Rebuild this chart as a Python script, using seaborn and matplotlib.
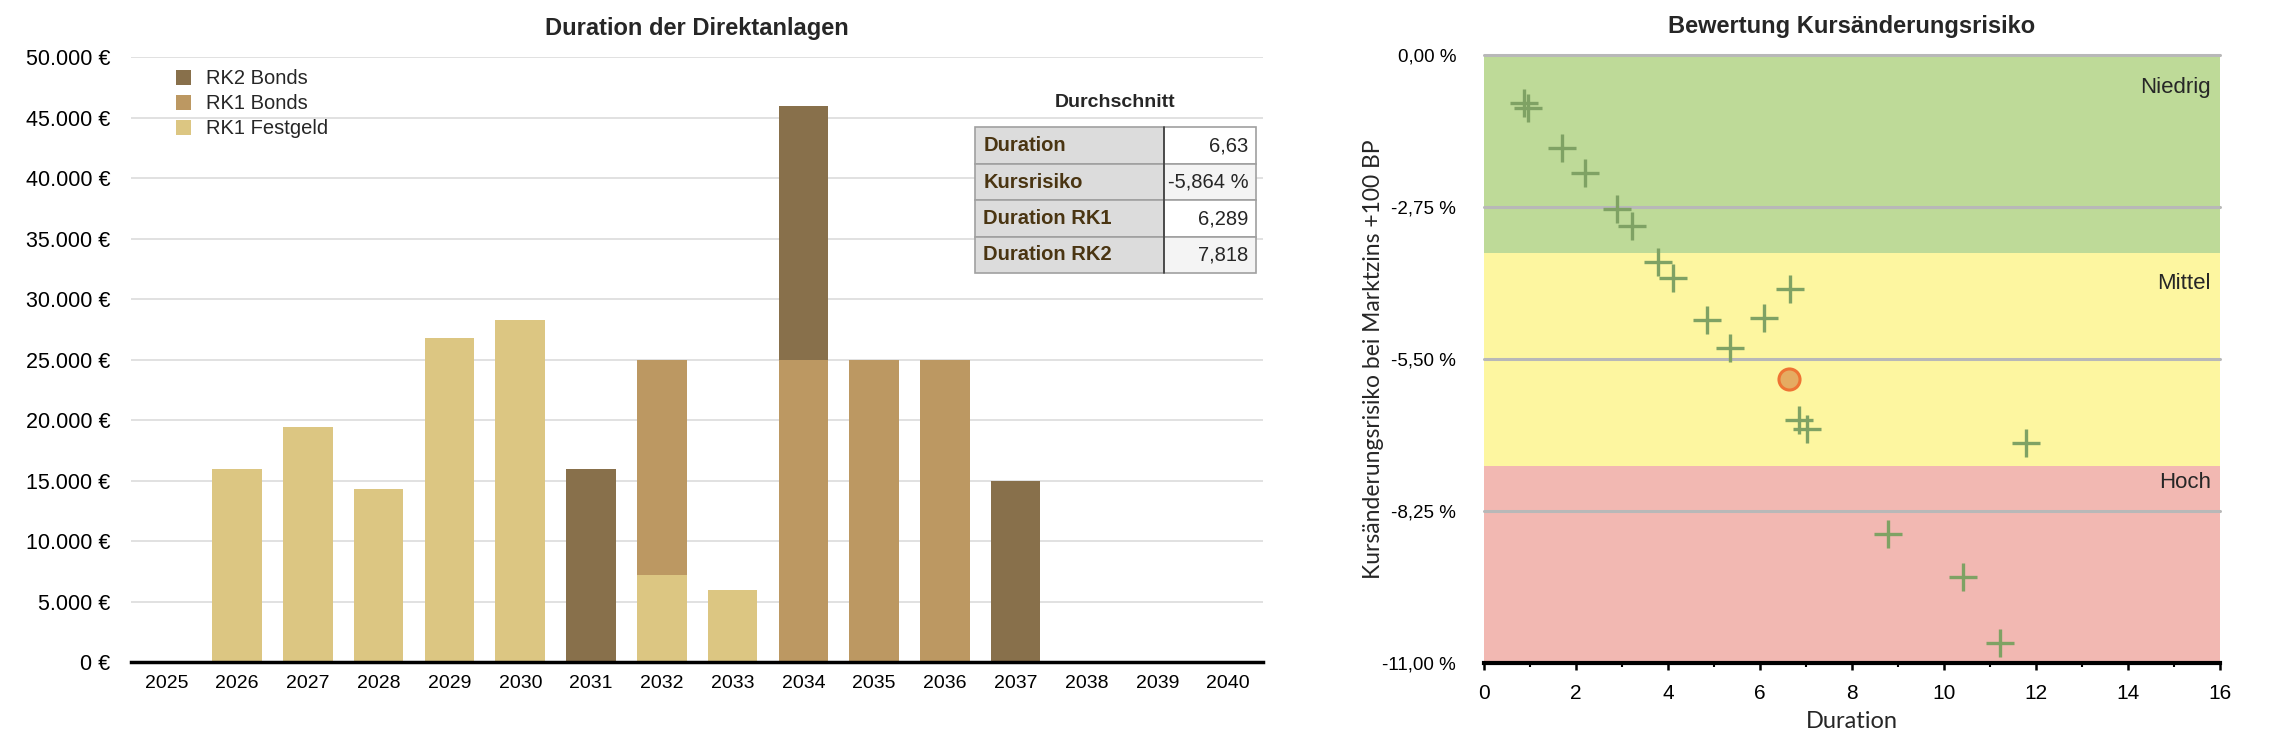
import numpy as np
import pandas as pd
import matplotlib
matplotlib.use("Agg")
import matplotlib.pyplot as plt
import seaborn as sns
from matplotlib.patches import Patch
from matplotlib.ticker import FuncFormatter, MultipleLocator

# ---- data: Duration der Direktanlagen ----
years = list(range(2025, 2041))
rk1_festgeld = [0, 16000, 19400, 14300, 26800, 28250, 0, 7200, 5950, 0, 0, 0, 0, 0, 0, 0]
rk1_bonds = [0, 0, 0, 0, 0, 0, 0, 17800, 0, 25000, 25000, 25000, 0, 0, 0, 0]
rk2_bonds = [0, 0, 0, 0, 0, 0, 16000, 0, 0, 21000, 0, 0, 15000, 0, 0, 0]
series_names = ["RK2 Bonds", "RK1 Bonds", "RK1 Festgeld"]
series_colors = ["#88704B", "#BC9862", "#DCC682"]

stats_labels = ["Duration", "Kursrisiko", "Duration RK1", "Duration RK2"]
stats_values = ["6,63", "-5,864 %", "6,289", "7,818"]

# ---- data: Bewertung Kursänderungsrisiko ----
pos_duration = [0.87, 0.95, 1.69, 2.20, 2.88, 3.21, 3.79, 4.11, 6.66, 4.85, 6.08, 5.34,
                6.85, 7.01, 11.77, 8.79, 10.42, 11.21]
pos_risk = [-0.86, -0.96, -1.67, -2.14, -2.79, -3.09, -3.74, -4.03, -4.23, -4.80, -4.75, -5.29,
            -6.61, -6.77, -7.02, -8.66, -9.45, -10.63]
avg_duration = 6.63
avg_risk = -5.864
zone_names = ["Niedrig", "Mittel", "Hoch"]
zone_top = [0, -3.58, -7.44]
zone_bottom = [-3.58, -7.44, -11]
zone_colors = ["#BEDA98", "#FDF6A0", "#F2B8B2"]
zone_label_y = [-0.58, -4.13, -7.74]
risk_ticks = [0, -2.75, -5.5, -8.25, -11]

sns.set_theme(style="white")
plt.rcParams["font.family"] = ["Liberation Sans", "DejaVu Sans"]

fig = plt.figure(figsize=(22.74, 7.54), dpi=100)

# ================= left chart =================
ax = fig.add_axes([0.0576, 0.122, 0.498, 0.802])
bottom = np.zeros(len(years))
stack = [(rk1_festgeld, 2), (rk1_bonds, 1), (rk2_bonds, 0)]
for vals, i in stack:
    sns.barplot(x=years, y=vals, bottom=bottom, color=series_colors[i], saturation=1,
                width=0.7, linewidth=0, ax=ax, zorder=3)
    bottom = bottom + np.array(vals)

ax.set_ylim(0, 50000)
ax.set_xlim(-0.5, len(years) - 0.5)
ax.yaxis.set_major_locator(MultipleLocator(5000))
ax.yaxis.set_major_formatter(FuncFormatter(lambda v, p: f"{int(v):,} €".replace(",", ".")))
ax.grid(axis="y", color="#DEDEDE", lw=1.3, zorder=0)
ax.grid(axis="x", visible=False)
for s in ["top", "left", "right"]:
    ax.spines[s].set_visible(False)
ax.spines["bottom"].set_color("black")
ax.spines["bottom"].set_linewidth(2.5)
ax.spines["bottom"].set_zorder(5)
ax.tick_params(axis="y", length=0, labelsize=15.5, colors="black", pad=15)
ax.tick_params(axis="x", length=0, labelsize=14, colors="black", pad=9)
ax.set_xlabel("")
ax.set_ylabel("")
ax.set_title("Duration der Direktanlagen", fontsize=17, fontweight="bold", pad=16)

handles = [Patch(facecolor=c, edgecolor="none") for c in series_colors]
ax.legend(handles, series_names, loc="upper left", bbox_to_anchor=(0.024, 1.01), frameon=False,
          fontsize=14.5, handlelength=0.75, handleheight=0.75, handletextpad=0.75, labelspacing=0.3)

# summary table
ax.text(0.869, 0.926, "Durchschnitt", transform=ax.transAxes, ha="center", va="center",
        fontsize=14, fontweight="bold")
tbl = ax.table(cellText=[[l, v] for l, v in zip(stats_labels, stats_values)],
               colWidths=[0.673, 0.327], bbox=[0.745, 0.643, 0.248, 0.241], zorder=6)
tbl.auto_set_font_size(False)
for (r, c), cell in tbl.get_celld().items():
    cell.set_edgecolor("#A0A0A0")
    cell.set_linewidth(1.2)
    txt = cell.get_text()
    txt.set_fontsize(14.5)
    if c == 0:
        cell.set_facecolor("#DCDCDC")
        cell.PAD = 0.045
        txt.set_ha("left")
        txt.set_fontweight("bold")
        txt.set_color("#4A3512")
        cell._loc = "left"
    else:
        cell.set_facecolor("#FFFFFF" if r % 2 == 0 else "#F4F4F4")
        cell.PAD = 0.08
        txt.set_ha("right")
        cell._loc = "right"
x_div = 0.745 + 0.248 * 0.673
ax.plot([x_div, x_div], [0.643, 0.884], transform=ax.transAxes, color="#3C3C3C", lw=1.2,
        zorder=7, clip_on=False)

# ================= right chart =================
ax2 = fig.add_axes([0.6526, 0.1207, 0.3237, 0.806])
for top, bot, col in zip(zone_top, zone_bottom, zone_colors):
    ax2.axhspan(bot, top, color=col, lw=0, zorder=0)
for t in risk_ticks[:-1]:
    ax2.axhline(t, color="#B8B8B8", lw=2.2, zorder=1, clip_on=False)
for name, ly in zip(zone_names, zone_label_y):
    ax2.text(15.8, ly, name, ha="right", va="center", fontsize=16, zorder=2)

sns.scatterplot(x=pos_duration, y=pos_risk, marker="+", s=400, color="#7FA264",
                linewidth=2.4, ax=ax2, zorder=3)
sns.scatterplot(x=[avg_duration], y=[avg_risk], s=230, color="#E5AB62", edgecolor="#EE7334",
                linewidth=2.2, ax=ax2, zorder=4)

ax2.set_xlim(0, 16)
ax2.set_ylim(-11, 0)
ax2.set_yticks(risk_ticks)
ax2.yaxis.set_major_formatter(FuncFormatter(lambda v, p: f"{abs(v) if abs(v) < 1e-9 else v:.2f} %".replace(".", ",")))
ax2.xaxis.set_major_locator(MultipleLocator(2))
ax2.xaxis.set_minor_locator(MultipleLocator(1))
for s in ["top", "left", "right"]:
    ax2.spines[s].set_visible(False)
ax2.spines["bottom"].set_color("black")
ax2.spines["bottom"].set_linewidth(3)
ax2.tick_params(axis="x", which="major", direction="out", length=5, width=1.8, colors="black",
                labelsize=15, pad=10, bottom=True)
ax2.tick_params(axis="x", which="minor", direction="out", length=3, width=1.5, colors="black",
                bottom=True)
ax2.tick_params(axis="y", length=0, labelsize=13.5, pad=20, colors="black")
ax2.grid(False)
ax2.set_xlabel("Duration", fontsize=17, family=["Lato", "DejaVu Sans"], labelpad=6)
ax2.set_ylabel("Kursänderungsrisiko bei Marktzins +100 BP", fontsize=16.5,
               family=["Lato", "DejaVu Sans"], labelpad=-1)
ax2.set_title("Bewertung Kursänderungsrisiko", fontsize=17, fontweight="bold", pad=16)

fig.savefig("out.png", dpi=100)
